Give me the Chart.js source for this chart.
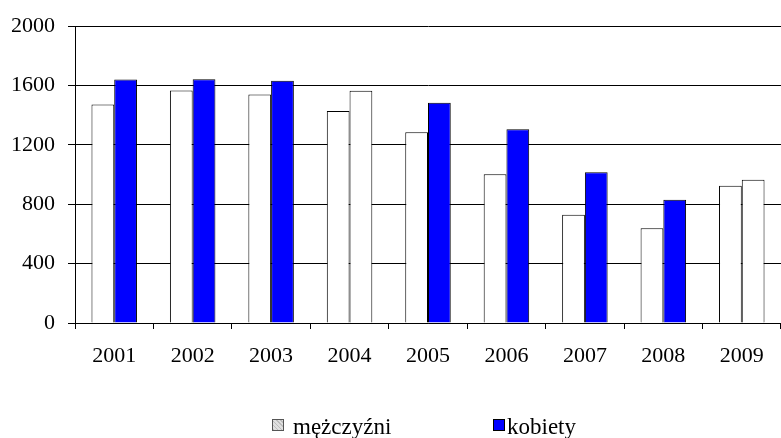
<!DOCTYPE html>
<html>
<head>
<meta charset="utf-8">
<script src="https://cdn.jsdelivr.net/npm/chart.js@4.4.1/dist/chart.umd.min.js"></script>
<style>
    html, body { margin: 0; padding: 0; background: #fff; }
    #wrap { position: relative; width: 781px; height: 438px; }
    #legend { position: absolute; left: 0; top: 416px; width: 781px; height: 22px;
              font-family: "Liberation Serif", "Times New Roman", serif; font-size: 23px; color: #000; }
    .item { position: absolute; top: 0; line-height: 22px; white-space: nowrap; }
    .box { position: absolute; top: 3px; width: 10px; height: 10px; border: 1px solid #000; }
    .box.m { background: repeating-linear-gradient(45deg, #bdbdbd 0 1px, #e0e0e0 1px 3px); border-color: #555; }
    .box.k { background: #0000ff; }
</style>
</head>
<body>
<div id="wrap">
    <canvas id="chart" width="781" height="438"></canvas>
    <div id="legend">
        <span class="box m" style="left:272px"></span>
        <span class="item" style="left:293px">mężczyźni</span>
        <span class="box k" style="left:493px"></span>
        <span class="item" style="left:507px">kobiety</span>
    </div>
</div>
<script>
// dane
const lata = ['2001', '2002', '2003', '2004', '2005', '2006', '2007', '2008', '2009'];
const mezczyzni = [1473, 1567, 1540, 1429, 1285, 1002, 729, 638, 925];
const kobiety = [1640, 1643, 1633, 1565, 1485, 1305, 1015, 831, 965];
const yTicks = [0, 400, 800, 1200, 1600, 2000];

// lata, w ktorych slupek kobiet jest bialy w oryginale
const bialeLata = ['2004', '2009'];

const font = { family: '"Liberation Serif", "Times New Roman", serif', size: 22 };

new Chart(document.getElementById('chart'), {
    type: 'bar',
    data: {
        labels: lata,
        datasets: [{
            label: 'mężczyźni',
            data: mezczyzni,
            backgroundColor: '#ffffff',
            borderColor: '#000',
            borderWidth: 1,
            borderSkipped: 'bottom'
        }, {
            label: 'kobiety',
            data: kobiety,
            backgroundColor: ctx => bialeLata.includes(lata[ctx.dataIndex]) ? '#ffffff' : '#0000ff',
            borderColor: '#000',
            borderWidth: 1,
            borderSkipped: 'bottom'
        }]
    },
    options: {
        responsive: false,
        animation: false,
        layout: { padding: { top: 23, right: 0, left: 0, bottom: 65 } },
        plugins: { legend: { display: false }, tooltip: { enabled: false } },
        datasets: { bar: { categoryPercentage: 0.58, barPercentage: 1 } },
        scales: {
            x: {
                grid: { offset: true, drawOnChartArea: false, color: '#000', tickLength: 6 },
                border: { color: '#000' },
                ticks: { color: '#000', font: font, padding: 14, maxRotation: 0 },
                afterFit: s => { s.height = 50; }
            },
            y: {
                min: 0, max: 2000,
                afterBuildTicks: s => { s.ticks = yTicks.map(v => ({ value: v })); },
                grid: { color: '#000', tickLength: 7 },
                border: { color: '#000' },
                ticks: { color: '#000', font: font, padding: 13, callback: v => String(v) },
                afterFit: s => { s.width = 75; }
            }
        }
    }
});
</script>
</body>
</html>
